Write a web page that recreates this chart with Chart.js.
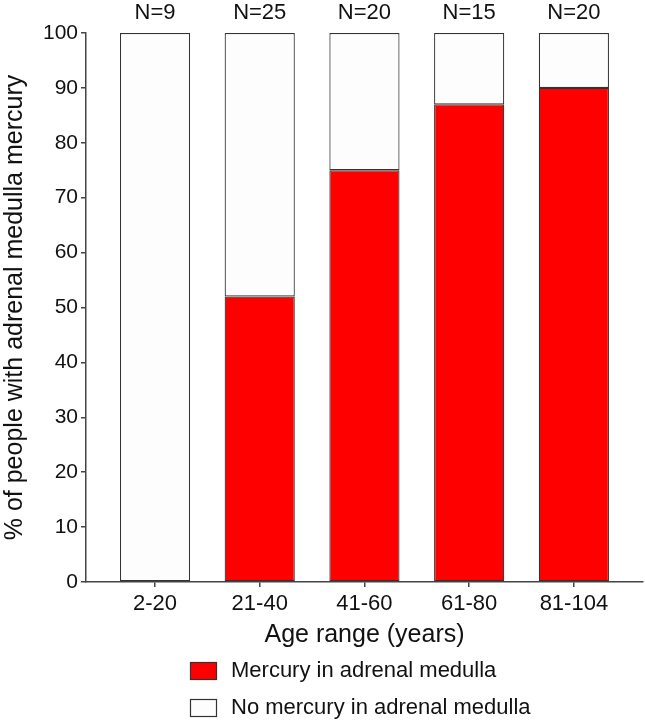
<!DOCTYPE html>
<html>
<head>
<meta charset="utf-8">
<script src="https://cdn.jsdelivr.net/npm/chart.js@4/dist/chart.umd.min.js"></script>
<style>
  html, body { margin: 0; padding: 0; background: #fff; }
  #wrap { width: 645px; height: 722px; }
</style>
</head>
<body>
<div id="wrap"><canvas id="barChart" width="645" height="722"></canvas></div>
<script>
var ageRanges = ["2-20", "21-40", "41-60", "61-80", "81-104"];
var sampleSizes = ["N=9", "N=25", "N=20", "N=15", "N=20"];
var withMercury = [0, 52, 75, 87, 90];
var noMercury = [100, 48, 25, 13, 10];
var yTicks = [0, 10, 20, 30, 40, 50, 60, 70, 80, 90, 100];

var FONT = "'Liberation Sans', Arial, sans-serif";
var INK = "#111";

function pointsOf(values) {
    return values.map(function(v, i) { return { x: i + 1, y: v }; });
}

var topLabels = {
    id: "topLabels",
    afterDraw: function(chart) {
        var ctx = chart.ctx;
        var xs = chart.scales.x, ys = chart.scales.y;
        ctx.save();
        ctx.fillStyle = INK;
        ctx.font = "22px " + FONT;
        ctx.textAlign = "center";
        ctx.textBaseline = "middle";
        sampleSizes.forEach(function(t, i) {
            ctx.fillText(t, xs.getPixelForValue(i + 1), ys.getPixelForValue(100) - 20);
        });

        // legend, stacked vertically under the axis title
        chart.data.datasets.forEach(function(ds, i) {
            var top = 662 + i * 37;
            ctx.fillStyle = ds.backgroundColor;
            ctx.fillRect(190, top, 26, 17);
            ctx.strokeStyle = "#333";
            ctx.lineWidth = 1.2;
            ctx.strokeRect(190.5, top + 0.5, 26, 17);
            ctx.fillStyle = INK;
            ctx.textAlign = "left";
            ctx.fillText(ds.label, 231, top + 9);
        });
        ctx.restore();
    }
};

var ctx1 = document.getElementById("barChart").getContext("2d");
var barChart = new Chart(ctx1, {
    type: "bar",
    data: {
        datasets: [{
            label: "Mercury in adrenal medulla",
            data: pointsOf(withMercury),
            backgroundColor: "#ff0000",
            borderColor: "#333",
            borderWidth: 1.2,
            borderSkipped: false,
            categoryPercentage: 1,
            barPercentage: 0.67
        }, {
            label: "No mercury in adrenal medulla",
            data: pointsOf(noMercury),
            backgroundColor: "#fdfdfd",
            borderColor: "#333",
            borderWidth: 1.2,
            borderSkipped: false,
            categoryPercentage: 1,
            barPercentage: 0.67
        }]
    },
    options: {
        responsive: false,
        animation: false,
        layout: { padding: { top: 33, right: 2, bottom: 72, left: 0 } },
        plugins: { legend: { display: false }, tooltip: { enabled: false } },
        scales: {
            x: {
                type: "linear",
                stacked: true,
                offset: false,
                min: 0.341,
                max: 5.66,
                afterBuildTicks: function(scale) {
                    scale.ticks = ageRanges.map(function(l, i) { return { value: i + 1 }; });
                },
                afterFit: function(scale) { scale.height = 68; },
                ticks: {
                    color: INK,
                    font: { family: FONT, size: 22 },
                    padding: 4,
                    maxRotation: 0,
                    autoSkip: false,
                    callback: function(v) { return ageRanges[Math.round(v) - 1]; }
                },
                grid: { display: true, offset: false, drawOnChartArea: false, drawTicks: true, tickLength: 5, color: "#444", lineWidth: 1.5 },
                border: { display: true, color: "#444", width: 1.5 },
                title: {
                    display: true,
                    text: "Age range (years)",
                    color: INK,
                    font: { family: FONT, size: 25 },
                    padding: { top: 0, bottom: 0 }
                }
            },
            y: {
                stacked: true,
                min: 0,
                max: 100,
                afterBuildTicks: function(scale) {
                    scale.ticks = yTicks.map(function(v) { return { value: v }; });
                },
                afterFit: function(scale) { scale.width = 86; },
                ticks: {
                    color: INK,
                    font: { family: FONT, size: 21 },
                    padding: 3
                },
                grid: { display: true, drawOnChartArea: false, drawTicks: true, tickLength: 5, color: "#444", lineWidth: 1.5 },
                border: { display: true, color: "#444", width: 1.5 },
                title: {
                    display: true,
                    text: "% of people with adrenal medulla mercury",
                    color: INK,
                    font: { family: FONT, size: 25 },
                    padding: { top: 0, bottom: 0 }
                }
            }
        }
    },
    plugins: [topLabels]
});
</script>
</body>
</html>
